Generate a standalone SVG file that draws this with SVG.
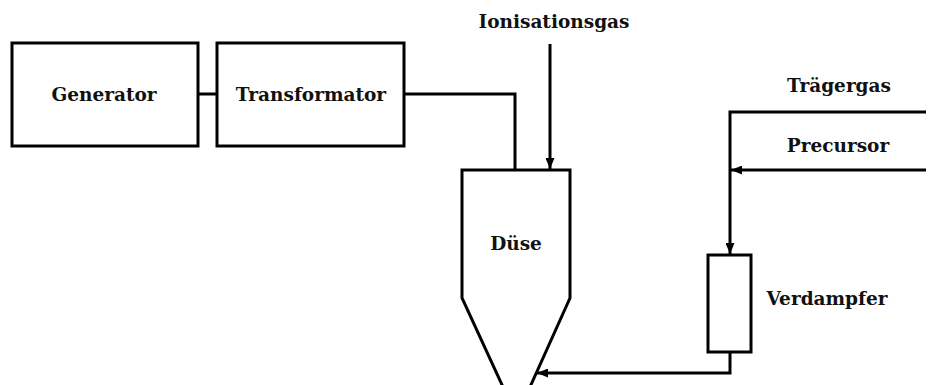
<svg xmlns="http://www.w3.org/2000/svg" width="936" height="385" viewBox="0 0 936 385">
<style>
.box{fill:#fff;stroke:#000;stroke-width:3}
.ln{fill:none;stroke:#000;stroke-width:3;stroke-linejoin:miter}
.lbl{font-family:"DejaVu Serif","Liberation Serif",serif;font-weight:bold;font-size:18.5px;fill:#111;text-anchor:middle}
</style>
<defs>
<marker id="ah" viewBox="0 0 11 9" refX="11" refY="4.5" markerWidth="11" markerHeight="9" markerUnits="userSpaceOnUse" orient="auto">
<path d="M0,0 L11,4.5 L0,9 Z" fill="#000"/>
</marker>
</defs>
<rect width="936" height="385" fill="#fff"/>
<g id="connectors">
<path class="ln" d="M198,94 H217"/>
<path class="ln" d="M404,94 H515 V170"/>
<path class="ln" d="M550,44 V169" marker-end="url(#ah)"/>
<path class="ln" d="M926,112 H730 V254" marker-end="url(#ah)"/>
<path class="ln" d="M926,170 H731" marker-end="url(#ah)"/>
<path class="ln" d="M730,352 V373 H537" marker-end="url(#ah)"/>
</g>
<g id="generator">
<rect class="box" x="12" y="43" width="186" height="103"/>
<text class="lbl" x="104" y="101">Generator</text>
</g>
<g id="transformator">
<rect class="box" x="217" y="43" width="187" height="103"/>
<text class="lbl" x="311" y="101">Transformator</text>
</g>
<g id="ionisationsgas">
<text class="lbl" x="554" y="28">Ionisationsgas</text>
</g>
<g id="duese">
<path class="box" d="M503,387 L462,298 V170 H570 V298 L530,387 Z"/>
<text class="lbl" x="516" y="250">Düse</text>
</g>
<g id="traegergas">
<text class="lbl" x="839" y="92">Trägergas</text>
</g>
<g id="precursor">
<text class="lbl" x="838" y="152">Precursor</text>
</g>
<g id="verdampfer">
<rect class="box" x="708" y="255" width="43" height="97"/>
<text class="lbl" x="827" y="305">Verdampfer</text>
</g>
</svg>
